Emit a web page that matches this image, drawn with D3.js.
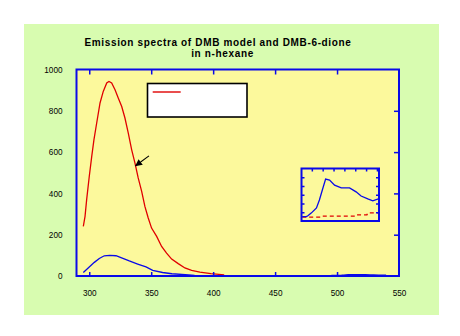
<!DOCTYPE html>
<html>
<head>
<meta charset="utf-8">
<script src="https://cdn.jsdelivr.net/npm/d3@7"></script>
<style>
  html, body { margin: 0; padding: 0; background: #ffffff; }
  svg { display: block; }
  text { font-family: "Liberation Sans", Arial, sans-serif; }
</style>
</head>
<body>
<svg id="chart" width="460" height="336"></svg>
<script>
// Emission spectra, wavelength (nm) vs. intensity (a.u.)
const modelWavelength = [295.2, 296.6, 297.9, 300.0, 302.0, 303.8, 306.0, 308.7, 311.3, 314.1, 315.9, 318.1, 320.8, 323.4, 326.2, 328.8, 331.5, 334.2, 336.9, 339.5, 342.3, 344.9, 347.6, 350.3, 354.4, 358.4, 362.4, 366.5, 371.8, 377.2, 382.6, 389.3, 398.2, 408.9];
const modelIntensity  = [240, 289, 370, 482, 579, 660, 741, 838, 894, 935, 942, 935, 902, 862, 821, 765, 692, 612, 547, 475, 410, 337, 281, 232, 192, 143, 111, 82, 60, 39, 27, 19, 11, 5];

const dioneWavelength = [295.2, 300.0, 304.1, 308.1, 312.1, 316.5, 321.6, 325.6, 332.3, 339.1, 345.8, 351.2, 359.2, 366.7, 380.2, 385.0];
const dioneIntensity  = [17, 44, 66, 85, 98, 100, 98, 89, 73, 58, 44, 27, 17, 11, 5, 3];

// Weak long-wavelength band of DMB-6-dione (shown enlarged in the inset)
const tailWavelength  = [495.4, 497.9, 498.9, 500.8, 503.7, 505.4, 507.1, 509.0, 511.3, 514.2, 518.1, 522.9, 526.7, 529.6, 533.5, 536.4, 539.6];
const dioneTail       = [0.50, 0.50, 0.63, 0.93, 1.50, 2.40, 3.54, 4.80, 4.68, 4.10, 3.78, 3.78, 3.33, 2.85, 2.52, 2.31, 2.52];
const modelTailWl     = [495.4, 506.0, 506.5, 526.5, 527.0, 533.0, 533.5, 539.6];
const modelTail       = [0.45, 0.45, 0.56, 0.56, 0.71, 0.71, 0.93, 0.93];

const xTicks = [300, 350, 400, 450, 500, 550];
const yTicks = [0, 200, 400, 600, 800, 1000];
const insetXTicks = [501, 507.3, 513.6, 519.9, 526.2, 532.5, 538.8];
const insetYTicks = [1, 2, 3, 4, 5];

const titleLines = ["Emission spectra of DMB model and DMB-6-dione", "in n-hexane"];

const RED = "#e00000";
const BLUE = "#0a0ae8";

const svg = d3.select("#chart");

// panel backgrounds
svg.append("rect").attr("x", 24).attr("y", 24).attr("width", 415).attr("height", 291).attr("fill", "#d8fcb0");

const x = d3.scaleLinear().domain([289.3, 550]).range([76, 399]);
const y = d3.scaleLinear().domain([0, 1000]).range([276, 69.5]);

svg.append("rect")
  .attr("x", x.range()[0]).attr("y", y.range()[1])
  .attr("width", x.range()[1] - x.range()[0]).attr("height", y.range()[0] - y.range()[1])
  .attr("fill", "#fcf99c");

// two-line title
const title = svg.append("text").attr("text-anchor", "middle")
  .attr("font-weight", "bold").attr("font-size", 10).attr("letter-spacing", 0.65);
title.append("tspan").attr("x", 218).attr("y", 45.5).text(titleLines[0]);
title.append("tspan").attr("x", 222.5).attr("y", 56.9).text(titleLines[1]);

svg.append("clipPath").attr("id", "plotClip").append("rect")
  .attr("x", 76).attr("y", 69.5).attr("width", 323).attr("height", 206.5);

const line = d3.line().x(d => x(d[0])).y(d => y(d[1]));
const plot = svg.append("g").attr("clip-path", "url(#plotClip)");

plot.append("path").datum(modelWavelength.map((w, i) => [w, modelIntensity[i]]))
  .attr("d", line).attr("fill", "none").attr("stroke", RED).attr("stroke-width", 1.3);
plot.append("path").datum(modelTailWl.map((w, i) => [w, modelTail[i]]))
  .attr("d", line).attr("fill", "none").attr("stroke", RED).attr("stroke-width", 1.3);
plot.append("path").datum(dioneWavelength.map((w, i) => [w, dioneIntensity[i]]))
  .attr("d", line).attr("fill", "none").attr("stroke", BLUE).attr("stroke-width", 1.3);
plot.append("path").datum(tailWavelength.map((w, i) => [w, dioneTail[i]]))
  .attr("d", line).attr("fill", "none").attr("stroke", BLUE).attr("stroke-width", 2.2);

// axes
function styleAxis(g) {
  g.select(".domain").remove();
  g.selectAll(".tick line").attr("stroke", BLUE).attr("stroke-width", 1.5);
  g.selectAll("text").attr("font-size", 8.2).attr("fill", "#000");
}
// bottom labels
svg.append("g").attr("transform", "translate(0,276)")
  .call(d3.axisBottom(x).tickValues(xTicks).tickSize(0).tickPadding(14.5).tickFormat(d3.format("d")))
  .call(styleAxis);
// bottom ticks (pointing up, inside)
svg.append("g").attr("transform", "translate(0,276)")
  .call(d3.axisBottom(x).tickValues(xTicks.slice(0, -1)).tickSize(-4).tickFormat(""))
  .call(styleAxis);
// top ticks (pointing down, inside)
svg.append("g").attr("transform", "translate(0,69.5)")
  .call(d3.axisBottom(x).tickValues(xTicks.slice(0, -1)).tickSize(5).tickFormat(""))
  .call(styleAxis);
// left labels
svg.append("g").attr("transform", "translate(76,0)")
  .call(d3.axisLeft(y).tickValues(yTicks).tickSize(0).tickPadding(13.5).tickFormat(d3.format("d")))
  .call(styleAxis);
// right ticks (pointing left, inside)
svg.append("g").attr("transform", "translate(399,0)")
  .call(d3.axisLeft(y).tickValues(yTicks.slice(1, -1)).tickSize(5).tickFormat(""))
  .call(styleAxis);

// plot frame
svg.append("rect")
  .attr("x", 76.5).attr("y", 69.5).attr("width", 322.5).attr("height", 206.5)
  .attr("fill", "none").attr("stroke", BLUE).attr("stroke-width", 2);

// legend box
svg.append("rect").attr("x", 147.5).attr("y", 83.5).attr("width", 99.5).attr("height", 33.5)
  .attr("fill", "#ffffff").attr("stroke", "#000").attr("stroke-width", 1.6);
svg.append("line").attr("x1", 152.7).attr("x2", 180.7).attr("y1", 92).attr("y2", 92)
  .attr("stroke", RED).attr("stroke-width", 1.4);

// arrow pointing at the model curve
const tail = [348.2, 582], tip = [337.4, 534];
svg.append("defs").append("marker").attr("id", "arrowHead")
  .attr("viewBox", "0 0 10 10").attr("refX", 9).attr("refY", 5)
  .attr("markerWidth", 7).attr("markerHeight", 7).attr("markerUnits", "userSpaceOnUse")
  .attr("orient", "auto")
  .append("path").attr("d", "M0,0 L10,5 L0,10 Z").attr("fill", "#000");
svg.append("line")
  .attr("x1", x(tail[0])).attr("y1", y(tail[1]))
  .attr("x2", x(tip[0])).attr("y2", y(tip[1]))
  .attr("stroke", "#000").attr("stroke-width", 1.1).attr("marker-end", "url(#arrowHead)");

// inset: enlarged long-wavelength band
const ix = d3.scaleLinear().domain([495, 540]).range([301.5, 379]);
const iy = d3.scaleLinear().domain([0, 6]).range([221, 168.5]);
const ig = svg.append("g");
ig.append("rect").attr("x", 301.5).attr("y", 168.5).attr("width", 77.5).attr("height", 52.5)
  .attr("fill", "#fcf99c");
const iline = d3.line().x(d => ix(d[0])).y(d => iy(d[1]));
ig.append("path").datum(modelTailWl.map((w, i) => [w, modelTail[i]]))
  .attr("d", iline).attr("fill", "none").attr("stroke", RED).attr("stroke-width", 1.3)
  .attr("stroke-dasharray", "4,3");
ig.append("path").datum(tailWavelength.map((w, i) => [w, dioneTail[i]]))
  .attr("d", iline).attr("fill", "none").attr("stroke", BLUE).attr("stroke-width", 1.3);
ig.append("g").attr("transform", "translate(0,168.5)")
  .call(d3.axisBottom(ix).tickValues(insetXTicks).tickSize(3).tickFormat(""))
  .call(styleAxis);
ig.append("g").attr("transform", "translate(301.5,0)")
  .call(d3.axisRight(iy).tickValues(insetYTicks).tickSize(3).tickFormat(""))
  .call(styleAxis);
ig.append("g").attr("transform", "translate(379,0)")
  .call(d3.axisLeft(iy).tickValues(insetYTicks).tickSize(3).tickFormat(""))
  .call(styleAxis);
ig.append("rect").attr("x", 301.5).attr("y", 168.5).attr("width", 77.5).attr("height", 52.5)
  .attr("fill", "none").attr("stroke", BLUE).attr("stroke-width", 2);
</script>
</body>
</html>
